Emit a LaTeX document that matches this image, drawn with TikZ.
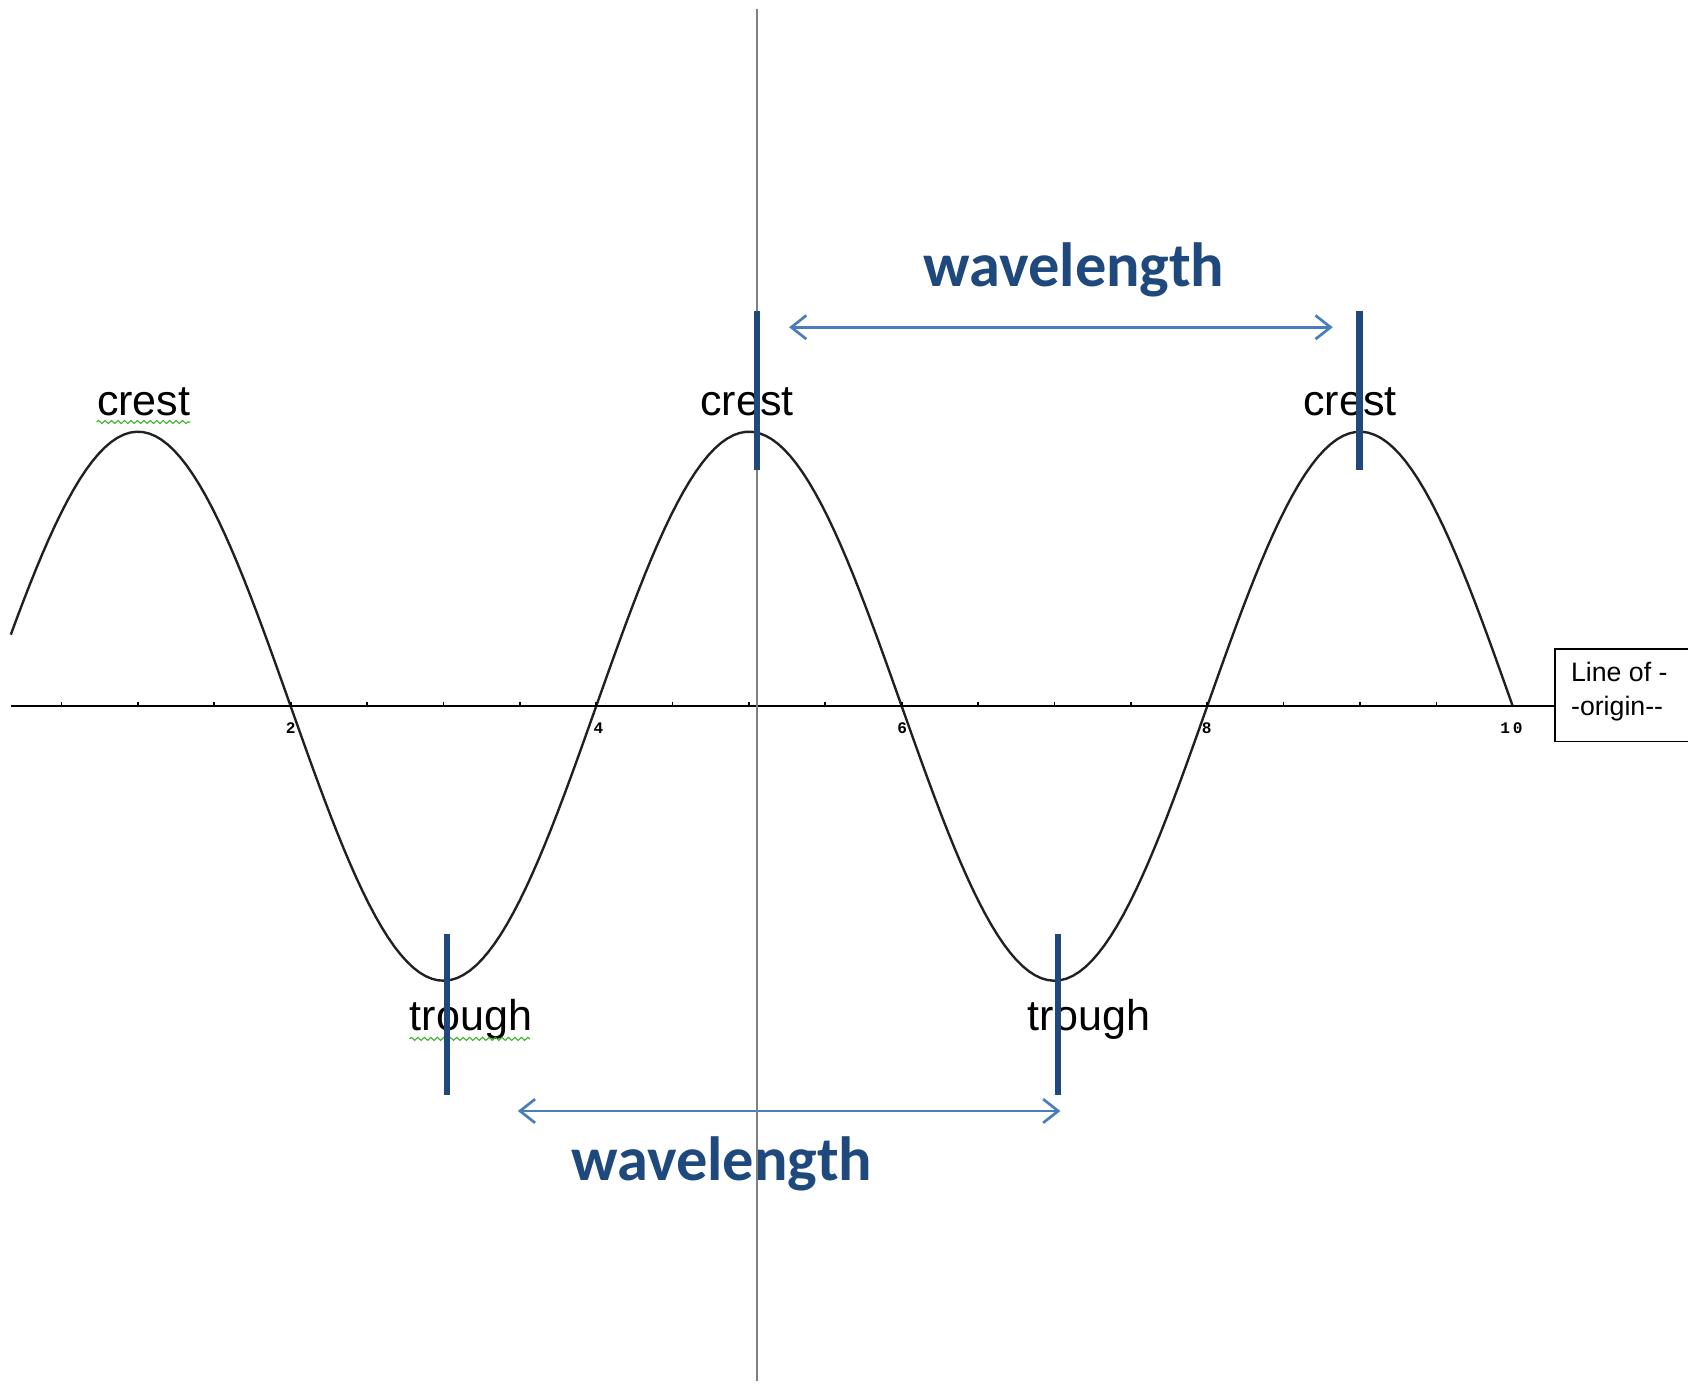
\documentclass[tikz,border=0pt]{standalone}
\usepackage{fontspec}
\setmainfont{Liberation Sans}
\newfontfamily\calibfont{Carlito}
\newfontfamily\tickfont{Liberation Mono}
\usetikzlibrary{arrows.meta,decorations.pathmorphing}
\definecolor{darkblue}{HTML}{1F497D}
\definecolor{arrowblue}{HTML}{4A7EBB}
\definecolor{axisgray}{HTML}{808080}
\definecolor{spellgreen}{HTML}{3DAE2B}
\definecolor{curveblack}{HTML}{202020}
\begin{document}
\begin{tikzpicture}[x=0.5pt,y=-0.5pt,
  curve/.style={draw=curveblack,line width=1.1pt},
  axisline/.style={draw=black,line width=0.8pt},
  tickmark/.style={draw=black,line width=0.8pt},
  ticklbl/.style={font=\tickfont\bfseries\fontsize{7.5}{8}\selectfont,inner sep=0pt},
  lbl/.style={font=\fontsize{20}{24}\selectfont,inner sep=0pt,anchor=base},
  wave/.style={font=\calibfont\bfseries\fontsize{29}{34}\selectfont,text=darkblue,inner sep=0pt,anchor=base},
  bar/.style={draw=darkblue,line width=3pt},
  span/.style={draw=arrowblue,line width=1.25pt,{Straight Barb[length=7pt,width=11pt]}-{Straight Barb[length=7pt,width=11pt]}},
  spell/.style={draw=spellgreen,line width=0.5pt,decorate,decoration={snake,amplitude=0.7pt,segment length=3pt}},
  originbox/.style={draw=black,line width=0.7pt,minimum width=62.5pt,minimum height=43pt,inner sep=0pt,anchor=north west},
  boxtext/.style={font=\fontsize{12.4}{15.8}\selectfont,anchor=base west,inner sep=0pt}
]
\useasboundingbox (0,0) rectangle (1568,1285);
% sine wave
\draw[curve] plot[domain=0.168:10,samples=240] ({-13.8+141.9*\x},{656-255*sin(90*\x)});
% axis and box
\coordinate (axL) at (10,656);
\node[originbox] (box) at (1443.5,602) {};
\node[boxtext] (boxl1) at (1459,633.5) {Line of -};
\node[boxtext] (boxl2) at (1459,665) {-origin-{}-};
\draw[axisline] (axL) -- (axL -| box.west);
\foreach \u in {0.5,1,...,9.5} \draw[tickmark] ({-13.8+141.9*\u},656) -- ++(0,-4);
\node[ticklbl] (n2) at (270,676) {2};
\node[ticklbl] (n4) at (556,676) {4};
\node[ticklbl] (n6) at (838,676) {6};
\node[ticklbl] (n8) at (1121,676) {8};
\node[ticklbl] (n10) at (1404,676) {1\,0};
% labels
\node[lbl] (c1) at (133.5,386) {crest};
\node[lbl] (c2) at (694,386) {crest};
\node[lbl] (c3) at (1254,386) {crest};
\node[lbl] (tr1) at (437.5,957) {trough};
\node[lbl] (tr2) at (1011.5,957) {trough};
\draw[spell] (c1.base west) ++(0,6) -- ++(87,0);
\draw[spell] (tr1.base west) ++(0,8) -- ++(112,0);
\node[wave] (w1) at (997.5,266) {wavelength};
\node[wave] (w2) at (670.5,1097) {wavelength};
% arrows
\coordinate (a1s) at (733,304);
\coordinate (a1e) at (1238,304);
\coordinate (a2s) at (481,1032);
\coordinate (a2e) at (985,1032);
\draw[span] (a1s) -- (a1e);
\draw[span] (a2s) -- (a2e);
% vertical line
\coordinate (vT) at (703,8);
\coordinate (vB) at (703,1283);
\draw[draw=axisgray,line width=0.9pt] (vT) -- (vB);
% bars
\coordinate (b1t) at (703,289); \coordinate (b1b) at (703,437);
\coordinate (b2t) at (1263,289); \coordinate (b2b) at (1263,437);
\coordinate (b3t) at (415,868); \coordinate (b3b) at (415,1017);
\coordinate (b4t) at (983,868); \coordinate (b4b) at (983,1017);
\draw[bar] (b1t) -- (b1b);
\draw[bar] (b2t) -- (b2b);
\draw[bar] (b3t) -- (b3b);
\draw[bar] (b4t) -- (b4b);
\end{tikzpicture}
\end{document}
